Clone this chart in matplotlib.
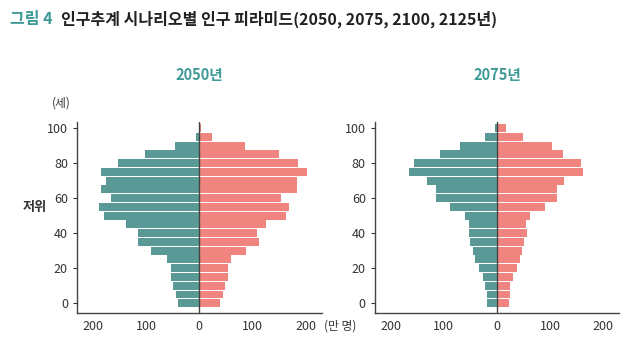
import matplotlib
matplotlib.use("Agg")
import matplotlib.pyplot as plt
import numpy as np

plt.rcParams['font.family'] = ['Noto Sans CJK KR', 'DejaVu Sans']

ages = list(range(0, 101, 5))
# 2050 (만 명)
male_2050 = [41, 44, 50, 54, 54, 61, 90, 116, 116, 137, 180, 189, 167, 184, 176, 184, 152, 103, 46, 6, 1]
female_2050 = [39, 45, 49, 53, 53, 60, 87, 113, 109, 126, 162, 169, 154, 184, 184, 203, 186, 149, 85, 24, 4]
# 2075
male_2075 = [18, 19, 23, 27, 33, 42, 46, 50, 53, 52, 61, 89, 114, 114, 131, 165, 157, 108, 70, 23, 4]
female_2075 = [22, 24, 24, 30, 37, 43, 47, 52, 56, 54, 62, 90, 113, 113, 126, 162, 158, 124, 103, 50, 18]

years = ["2050년", "2075년"]
xticks = [-200, -100, 0, 100, 200]
xticklabels = ["200", "100", "0", "100", "200"]
yticks = [0, 20, 40, 60, 80, 100]

male_color = "#5a9996"
female_color = "#f08580"
teal = "#3d9a97"
dark = "#333333"

fig = plt.figure(figsize=(6.29, 3.42), dpi=100)

axes_pos = [[0.1224, 0.0848, 0.389, 0.5585], [0.596, 0.0848, 0.388, 0.5585]]
data = [(male_2050, female_2050), (male_2075, female_2075)]

for i, (pos, (m, f)) in enumerate(zip(axes_pos, data)):
    ax = fig.add_axes(pos)
    ax.barh(ages, [-v for v in m], height=4.5, color=male_color, linewidth=0)
    ax.barh(ages, f, height=4.5, color=female_color, linewidth=0)
    ax.axvline(0, color="#444444", linewidth=1.0, zorder=5)
    ax.set_xlim(-230, 230)
    ax.set_ylim(-5.6, 103.5)
    ax.set_xticks(xticks)
    ax.set_xticklabels(xticklabels)
    ax.set_yticks(yticks)
    for s in ["top", "right"]:
        ax.spines[s].set_visible(False)
    for s in ["left", "bottom"]:
        ax.spines[s].set_color("#444444")
        ax.spines[s].set_linewidth(1.0)
    ax.tick_params(axis="both", labelsize=9, colors=dark, length=3, width=0.8)
    ax.tick_params(axis="x", length=0, pad=5)
    ax.set_title(years[i], fontsize=10.5, fontweight="bold", color=teal, pad=30)

fig.text(0.016, 0.945, "그림 4", fontsize=11.5, fontweight="bold", color=teal, va="center")
fig.text(0.097, 0.945, "인구추계 시나리오별 인구 피라미드(2050, 2075, 2100, 2125년)",
         fontsize=11.5, fontweight="bold", color="#222222", va="center")
fig.text(0.083, 0.70, "(세)", fontsize=8.5, color=dark, va="center")
fig.text(0.036, 0.395, "저위", fontsize=9.5, fontweight="bold", color=dark, va="center")
fig.text(0.515, 0.048, "(만 명)", fontsize=8.5, color=dark, va="center")

fig.savefig("out.png", dpi=100, facecolor="white")
